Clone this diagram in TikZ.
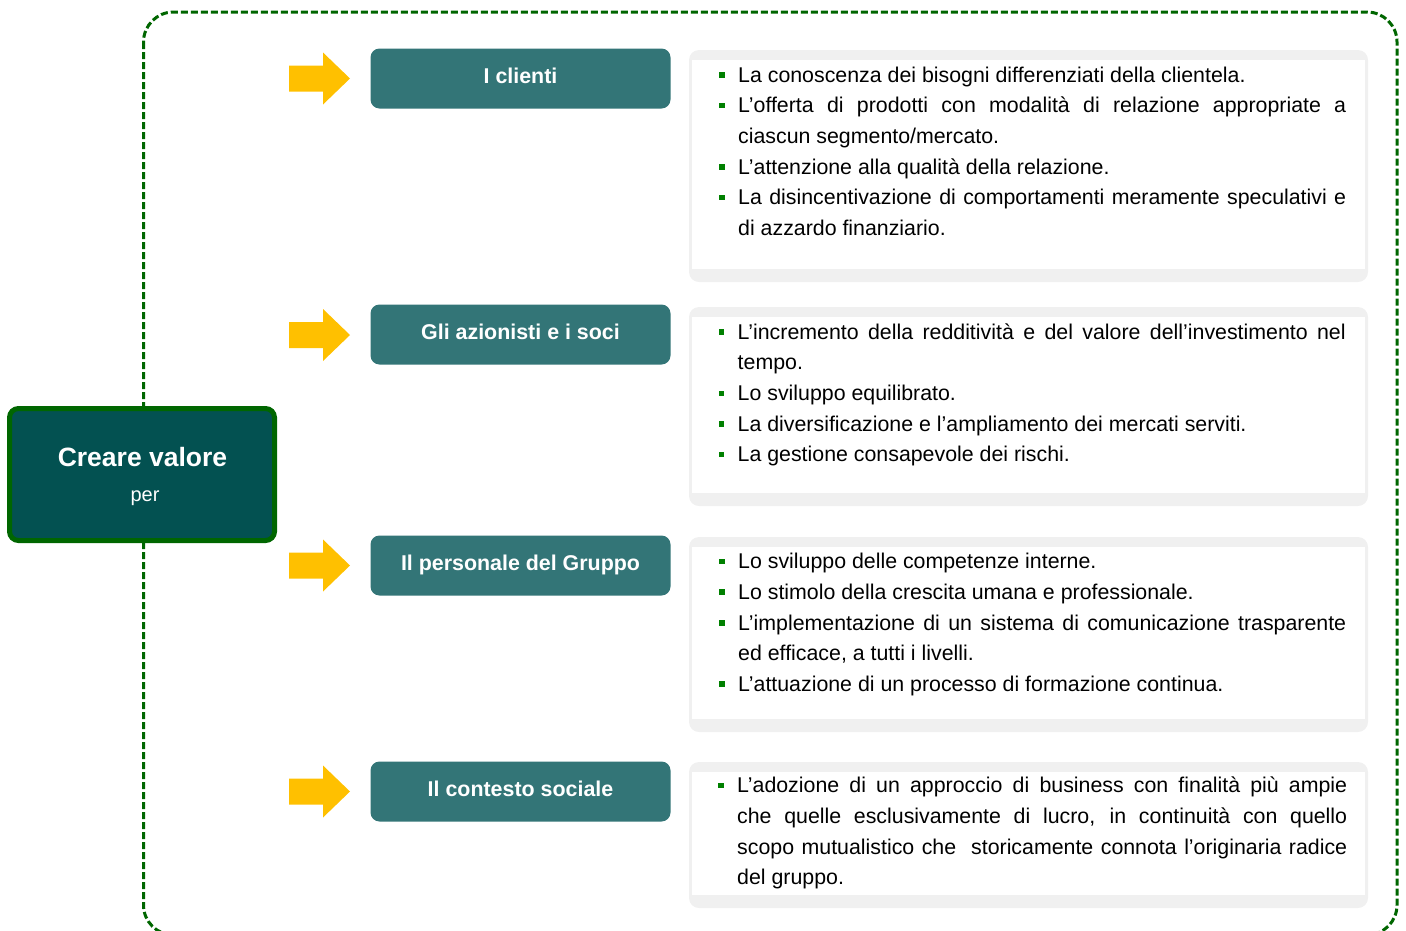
\documentclass[tikz,border=0pt]{standalone}
\usepackage{fontspec}
\setmainfont{Liberation Sans}
\definecolor{framegreen}{RGB}{0,102,0}
\definecolor{darkteal}{RGB}{3,81,81}
\definecolor{tealbox}{RGB}{51,117,119}
\definecolor{arrowyellow}{RGB}{255,192,0}
\definecolor{boxgray}{RGB}{240,240,240}
\definecolor{bulgreen}{RGB}{0,128,0}
\newcommand{\bul}{\makebox[19pt][l]{\vrule height 19pt depth 0pt width 0pt\raisebox{4.5pt}{\textcolor{bulgreen}{\rule{5.5pt}{5.5pt}}}}}
\newcommand{\itm}[1]{\par\noindent\hangindent=19pt\hangafter=1\hyphenpenalty=10000\exhyphenpenalty=10000\tolerance=9999\bul#1\par}
\newcommand{\yarrow}[1]{\fill[arrowyellow] (289,#1-13) -- (323,#1-13) -- (323,#1-26) -- (350,#1) -- (323,#1+26) -- (323,#1+13) -- (289,#1+13) -- cycle;}
\newcommand{\tbox}[2]{\fill[boxgray, rounded corners=10pt] (689,#1) rectangle (1368,#2); \fill[white] (692,#1+10) rectangle (1365,#2-13);}
\begin{document}
\begin{tikzpicture}[x=1pt,y=-1pt,
  frame/.style={draw=framegreen, line width=3pt, dash pattern=on 7pt off 3pt, rounded corners=30pt},
  mainbox/.style={draw=framegreen, line width=5pt, fill=darkteal, rounded corners=9pt, minimum width=265pt, minimum height=132pt, inner sep=0pt},
  cat/.style={fill=tealbox, rounded corners=9pt, minimum width=300pt, minimum height=60pt, text=white, font=\bfseries\fontsize{21.4}{24}\selectfont, text height=14pt, text depth=5pt, inner sep=0pt},
  txt/.style={anchor=north west, inner sep=0pt, text width=627pt, align=justify, font=\fontsize{21.34}{30.6}\selectfont, text=black}
]
\useasboundingbox (0,0) rectangle (1406,930);
\begin{scope}
\clip (0,0) rectangle (1406,930);
\draw[frame] (143.5,12) rectangle (1397,935);
\end{scope}

\node[mainbox] (main) at (142,474.5) {};
\node[text=white, font=\bfseries\fontsize{26.5}{30}\selectfont, anchor=base, inner sep=0pt] (t1) at (142.5,466) {Creare valore};
\node[text=white, font=\fontsize{20}{24}\selectfont, anchor=base, inner sep=0pt] (t2) at (145,501) {per};

\yarrow{78.5}
\yarrow{335}
\yarrow{565.5}
\yarrow{791.5}

\node[cat] (c1) at (520.5,78.5) {I clienti};
\node[cat] (c2) at (520.5,334.5) {Gli azionisti e i soci};
\node[cat] (c3) at (520.5,565.5) {Il personale del Gruppo};
\node[cat] (c4) at (520.5,791.5) {Il contesto sociale};

\tbox{50}{282}
\tbox{307}{506}
\tbox{537}{732}
\tbox{762}{908}

\node[txt] (d1) at (719,51.5) {%
\itm{La conoscenza dei bisogni differenziati della clientela.}
\itm{L’offerta di prodotti con modalità di relazione appropriate a\linebreak ciascun segmento/mercato.}
\itm{L’attenzione alla qualità della relazione.}
\itm{La disincentivazione di comportamenti meramente speculativi e\linebreak di azzardo finanziario.}};

\node[txt] (d2) at (718.5,308.5) {%
\itm{L’incremento della redditività e del valore dell’investimento nel\linebreak tempo.}
\itm{Lo sviluppo equilibrato.}
\itm{La diversificazione e l’ampliamento dei mercati serviti.}
\itm{La gestione consapevole dei rischi.}};

\node[txt] (d3) at (719,538) {%
\itm{Lo sviluppo delle competenze interne.}
\itm{Lo stimolo della crescita umana e professionale.}
\itm{L’implementazione di un sistema di comunicazione trasparente\linebreak ed efficace, a tutti i livelli.}
\itm{L’attuazione di un processo di formazione continua.}};

\node[txt, text width=629pt] (d4) at (718,762) {%
\itm{L’adozione di un approccio di business con finalità più ampie\linebreak che quelle esclusivamente di lucro, in continuità con quello\linebreak scopo mutualistico che\ \ storicamente connota l’originaria radice\linebreak del gruppo.}};
\end{tikzpicture}
\end{document}
